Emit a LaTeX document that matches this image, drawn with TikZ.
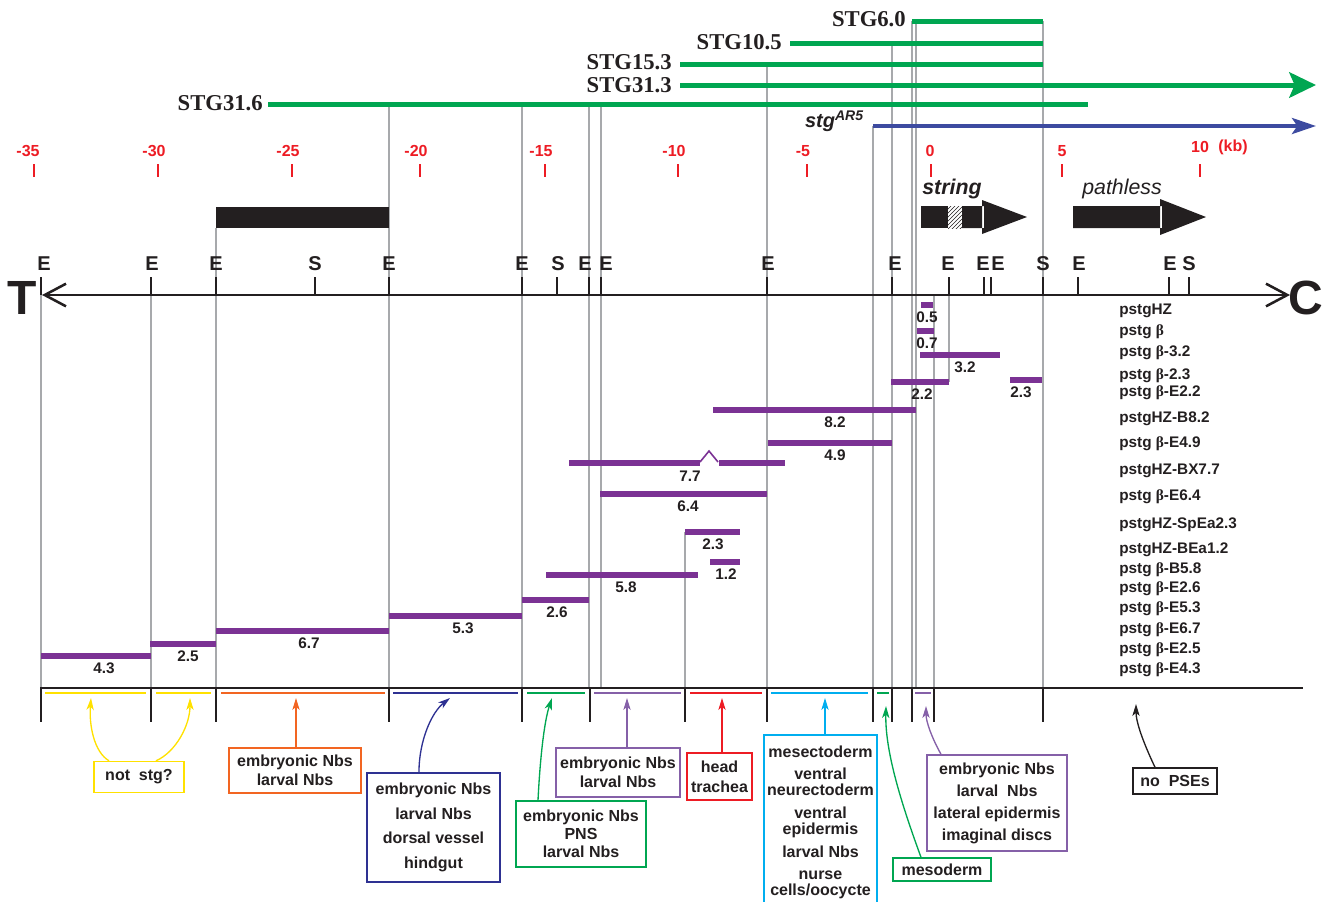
\documentclass[tikz,border=0pt]{standalone}
\usepackage{fontspec}
\setmainfont{Liberation Sans}
\newfontfamily\stgserif{Liberation Serif}
\usepackage{tikz}
\usetikzlibrary{arrows.meta,positioning,patterns}
\definecolor{stggreen}{HTML}{00A651}
\definecolor{ar5blue}{HTML}{3D4BA0}
\definecolor{clonepurple}{HTML}{7B3294}
\definecolor{guidegrey}{HTML}{A7A9AC}
\definecolor{scalered}{HTML}{ED1C24}
\definecolor{ink}{HTML}{231F20}
\definecolor{pyellow}{HTML}{FFE100}
\definecolor{porange}{HTML}{F26522}
\definecolor{pnavy}{HTML}{2E3192}
\definecolor{pgreen}{HTML}{00A651}
\definecolor{pviolet}{HTML}{8560A8}
\definecolor{pred}{HTML}{ED1C24}
\definecolor{pcyan}{HTML}{00AEEF}
\newcommand{\bt}{{\stgserif β}}
\tikzset{
  stglbl/.style={font=\stgserif\bfseries\fontsize{17}{18}\selectfont, text=ink, anchor=east, inner sep=0pt},
  gbar/.style={draw=stggreen, line width=3.75pt},
  kb/.style={font=\fontsize{12}{13}\selectfont\bfseries, text=scalered, inner sep=0pt},
  kbtick/.style={draw=scalered, line width=1.5pt},
  guide/.style={draw=guidegrey, line width=0.9pt},
  site/.style={font=\fontsize{15}{16}\selectfont\bfseries, text=ink, anchor=base, inner sep=0pt},
  sitetick/.style={draw=ink, line width=1.6pt},
  axisline/.style={draw=ink, line width=1.9pt,
    {Straight Barb[length=16pt,width=17pt]}-{Straight Barb[length=16pt,width=17pt]}},
  cbar/.style={draw=clonepurple, line width=4.5pt},
  num/.style={font=\fontsize{11.5}{12}\selectfont\bfseries, text=ink, inner sep=0pt},
  clone/.style={num, anchor=west},
  pse/.style={draw=#1, line width=1.1pt},
  pbox/.style={draw=#1, line width=1.1pt, fill=white, align=center, text=ink, inner sep=2pt,
               font=\fontsize{12}{14.3}\selectfont\bfseries},
  parr/.style={draw=#1, line width=1pt, -{Stealth[length=9pt, width=5.5pt, inset=2.5pt]}},
}

\begin{document}
\begin{tikzpicture}[x=0.75pt, y=-0.75pt]
  \useasboundingbox (0,0) rectangle (1328,901);
  % grey guide lines, behind everything
  \foreach \x/\t/\b in {41/295/688, 151/295/688, 216/228/688, 389/104/688, 522/104/688,
      589/104/688, 601/104/688, 685/532/688, 767/64/688, 873/126/688, 892/43/688,
      912/21/688, 916/21/688, 934/295/688, 949/295/382, 1043/21/688}
    \draw[guide] (\x,\t) -- (\x,\b);

  % transcripts
  \node[stglbl] (stg60) at (906,19) {STG6.0};
  \node[stglbl] (stg105) at (782,42) {STG10.5};
  \node[stglbl] (stg153) at (672,62) {STG15.3};
  \node[stglbl] (stg313) at (672,85) {STG31.3};
  \node[stglbl] (stg316) at (263,103) {STG31.6};
  \draw[gbar] (912,21) -- (1043,21);
  \draw[gbar] (790,43) -- (1043,43);
  \draw[gbar] (680,64) -- (1043,64);
  \draw[gbar, -{Stealth[length=20pt, width=19pt, inset=4pt]}] (680,85) -- (1316,85);
  \draw[gbar] (268,104) -- (1088,104);
  \node[anchor=east, inner sep=0pt, text=ink, font=\fontsize{15}{16}\selectfont\bfseries\itshape]
    (ar5) at (864,121) {stg\textsuperscript{AR5}};
  \draw[draw=ar5blue, line width=3pt, -{Stealth[length=18pt, width=12pt, inset=4pt]}] (873,126) -- (1316,126);

  % kb scale
  \foreach \x/\lx/\v in {34/28/-35, 158/154/-30, 292/288/-25, 420/416/-20, 545/541/-15,
      678/674/-10, 807/803/-5, 931/930/0, 1062/1062/5}{
    \draw[kbtick] (\x,164) -- (\x,177);
    \node[kb] (kb\x) at (\lx,151) {\v};
  }
  \draw[kbtick] (1200,164) -- (1200,177);
  \node[kb] (kb1200) at (1200,147) {10};
  \node[kb] (kbunit) at (1233,147) {(kb)};

  % genes
  \fill[ink] (216,207) rectangle (389,228);
  \fill[ink] (921,206) rectangle (948,228);
  \fill[pattern=north east lines, pattern color=ink] (948,206) rectangle (962,228);
  \fill[ink] (962,206) rectangle (984,228) (982,200) -- (1027,217) -- (982,234) -- cycle;
  \fill[ink] (1073,206) rectangle (1162,228) (1160,199) -- (1206,217) -- (1160,235) -- cycle;
  \node[text=ink, font=\fontsize{16}{18}\selectfont\bfseries\itshape] (string) at (952,189) {string};
  \node[text=ink, font=\fontsize{16}{18}\selectfont\itshape] (pathless) at (1122,189) {pathless};

  % restriction map
  \draw[axisline] (42,295) -- (1290,295);
  \node[text=ink, inner sep=0pt, font=\fontsize{36}{36}\selectfont\bfseries] (tel) at (22,298) {T};
  \node[text=ink, inner sep=0pt, font=\fontsize{36}{36}\selectfont\bfseries] (cen) at (1306,298) {C};
  \foreach \x/\lx/\s in {41/44/E, 151/152/E, 216/216/E, 315/315/S, 389/389/E, 522/522/E,
      557/558/S, 589/585/E, 601/606/E, 767/768/E, 892/895/E, 949/948/E, 984/983/E,
      991/998/E, 1043/1043/S, 1078/1079/E, 1169/1170/E, 1189/1189/S}{
    \draw[sitetick] (\x,277) -- (\x,295);
    \node[site] (site\x) at (\lx,270) {\s};
  }

  % genomic rescue constructs
  \newcommand{\clonebar}[6]{% name, from, to, row y, label x, size
    \draw[cbar] (#2,#4) -- (#3,#4);
    \node[num] (#1) at (#5,#4+12) {#6};}
  \clonebar{c05}{921}{933}{305}{927}{0.5}
  \clonebar{c07}{917}{934}{331}{927}{0.7}
  \clonebar{c32}{920}{1000}{355}{965}{3.2}
  \clonebar{c22}{891}{949}{382}{922}{2.2}
  \clonebar{c23r}{1010}{1042}{380}{1021}{2.3}
  \clonebar{c82}{713}{916}{410}{835}{8.2}
  \clonebar{c49}{768}{892}{443}{835}{4.9}
  \draw[cbar] (569,463) -- (700,463) (719,463) -- (785,463);
  \draw[clonepurple, line width=1.2pt] (700,462) -- (709,451) -- (718,462);
  \node[num] (c77) at (690,476) {7.7};
  \clonebar{c64}{600}{767}{494}{688}{6.4}
  \clonebar{c23}{685}{740}{532}{713}{2.3}
  \clonebar{c12}{710}{740}{562}{726}{1.2}
  \clonebar{c58}{546}{698}{575}{626}{5.8}
  \clonebar{c26}{522}{589}{600}{557}{2.6}
  \clonebar{c53}{389}{522}{616}{463}{5.3}
  \clonebar{c67}{216}{389}{631}{309}{6.7}
  \clonebar{c25}{150}{216}{644}{188}{2.5}
  \clonebar{c43}{41}{151}{656}{104}{4.3}

  \foreach \y/\t in {311/pstgHZ, 332/pstg \bt, 353/pstg \bt-3.2, 376/pstg \bt-2.3,
      393/pstg \bt-E2.2, 419/pstgHZ-B8.2, 444/pstg \bt-E4.9, 471/pstgHZ-BX7.7,
      497/pstg \bt-E6.4, 525/pstgHZ-SpEa2.3, 550/pstgHZ-BEa1.2, 570/pstg \bt-B5.8,
      589/pstg \bt-E2.6, 609/pstg \bt-E5.3, 630/pstg \bt-E6.7, 650/pstg \bt-E2.5,
      670/pstg \bt-E4.3}
    \node[clone] (cl\y) at (1119,\y) {\t};

  % PSE intervals
  \draw[ink, line width=2.2pt] (41,688) -- (1303,688);
  \foreach \x in {41,151,216,389,522,590,685,767,873,892,912,934,1043}
    \draw[ink, line width=2.2pt] (\x,687) -- (\x,722);
  \draw[pse=pyellow] (45,693) -- (146,693) (156,693) -- (211,693);
  \draw[pse=porange] (221,693) -- (385,693);
  \draw[pse=pnavy] (393,693) -- (518,693);
  \draw[pse=pgreen] (527,693) -- (585,693);
  \draw[pse=pviolet] (594,693) -- (681,693);
  \draw[pse=pred] (690,693) -- (762,693);
  \draw[pse=pcyan] (771,693) -- (868,693);
  \draw[pse=pgreen] (877,693) -- (889,693);
  \draw[pse=pviolet] (915,693) -- (931,693);
  \coordinate (ya) at (91,698);
  \coordinate (yb) at (190,698);
  \coordinate (oa) at (296,698);
  \coordinate (na) at (450,698);
  \coordinate (ga) at (552,698);
  \coordinate (va) at (627,698);
  \coordinate (ra) at (722,698);
  \coordinate (ca) at (825,698);
  \coordinate (ma) at (886,706);
  \coordinate (la) at (926,706);
  \coordinate (xa) at (1136,704);

  % expression boxes
  \node[pbox=pyellow, minimum width=67.5pt, minimum height=23.25pt] (notstg) at (139,777) {not\ \ stg?};
  \node[pbox=porange, minimum width=99pt, minimum height=33.75pt] (orbox) at (295,770.5) {embryonic Nbs\\larval Nbs};
  \node[pbox=pnavy, minimum width=99.75pt, minimum height=81.75pt, font=\fontsize{12}{18.5}\selectfont\bfseries]
    (nvbox) at (433.5,827.5) {embryonic Nbs\\larval Nbs\\dorsal vessel\\hindgut};
  \node[pbox=pgreen, minimum width=97.5pt, minimum height=49.5pt, font=\fontsize{12}{13.5}\selectfont\bfseries]
    (gnbox) at (581,834) {embryonic Nbs\\PNS\\larval Nbs};
  \node[pbox=pviolet, minimum width=93pt, minimum height=36.75pt] (vlbox) at (618,772.5) {embryonic Nbs\\larval Nbs};
  \node[pbox=pred, minimum width=48.75pt, minimum height=35.25pt, font=\fontsize{12}{15}\selectfont\bfseries]
    (rdbox) at (719.5,776.5) {head\\trachea};
  \node[pbox=pcyan, minimum width=84.75pt, minimum height=131.25pt, inner sep=1pt, font=\fontsize{12}{12}\selectfont\bfseries]
    (cybox) at (820.5,822.5) {mesectoderm\\[5pt]ventral\\neurectoderm\\[5pt]ventral\\epidermis\\[5pt]larval Nbs\\[5pt]nurse\\cells/oocycte};
  \node[pbox=pgreen, minimum width=73.5pt, minimum height=17.25pt] (mesobox) at (942,869.5) {mesoderm};
  \node[pbox=pviolet, minimum width=105pt, minimum height=72pt, font=\fontsize{12}{16.5}\selectfont\bfseries]
    (epibox) at (997,803) {embryonic Nbs\\larval\ \ Nbs\\lateral epidermis\\imaginal discs};
  \node[pbox=ink, minimum width=63pt, minimum height=19.5pt] (psebox) at (1175,781) {no\ \ PSEs};

  \draw[parr=pyellow] ([xshift=-22.5pt]notstg.north) .. controls (94,752) and (89,725) .. (ya);
  \draw[parr=pyellow] ([xshift=12.75pt]notstg.north) .. controls (176,752) and (190,725) .. (yb);
  \draw[parr=porange] (oa |- orbox.north) -- (oa);
  \draw[parr=pnavy] ([xshift=-10.9pt]nvbox.north) .. controls (419,740) and (432,712) .. (na);
  \draw[parr=pgreen] ([xshift=-32.25pt]gnbox.north) .. controls (540,760) and (544,722) .. (ga);
  \draw[parr=pviolet] (va |- vlbox.north) -- (va);
  \draw[parr=pred] (ra |- rdbox.north) -- (ra);
  \draw[parr=pcyan] (ca |- cybox.north) -- (ca);
  \draw[parr=pgreen] ([xshift=-15.75pt]mesobox.north) .. controls (900,800) and (885,750) .. (ma);
  \draw[parr=pviolet] ([xshift=-42pt]epibox.north) .. controls (932,738) and (926,722) .. (la);
  \draw[parr=ink] ([xshift=-15pt]psebox.north) .. controls (1143,742) and (1136,722) .. (xa);
\end{tikzpicture}
\end{document}
